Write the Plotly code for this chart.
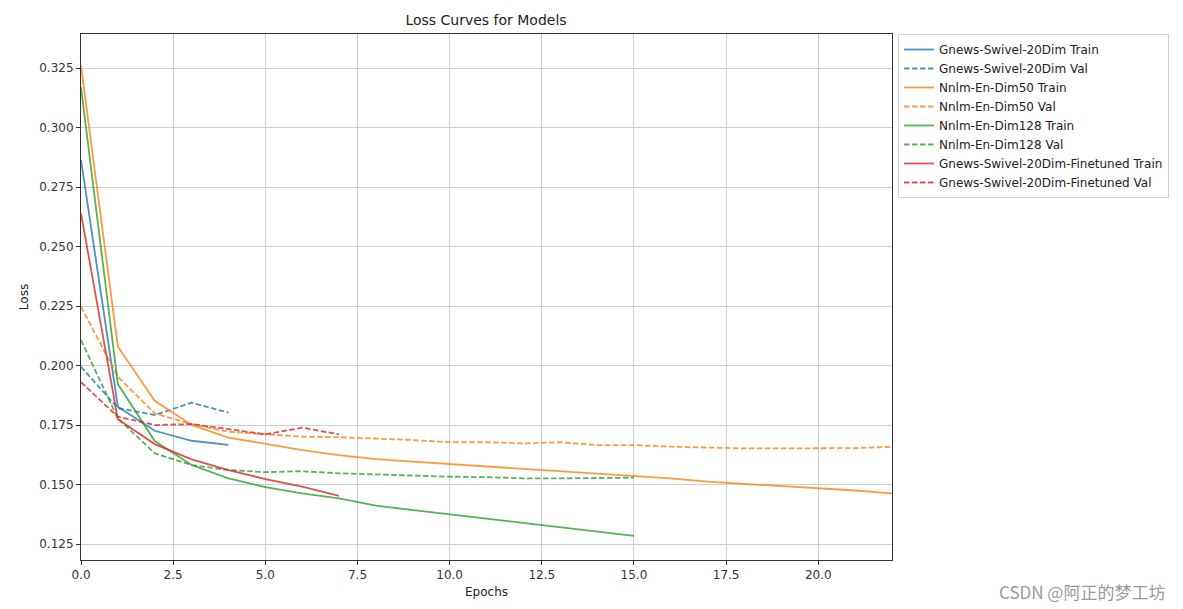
import plotly.graph_objects as go

epochs_gnews = [0, 1, 2, 3, 4]
gnews_train = [0.2865, 0.1828, 0.1727, 0.1685, 0.1668]
gnews_val = [0.1996, 0.1822, 0.1793, 0.1845, 0.1803]

epochs_nnlm50 = list(range(0, 23))
nnlm50_train = [0.326, 0.208, 0.1853, 0.1751, 0.1698, 0.1671, 0.1646, 0.1625, 0.1608, 0.1597,
                0.1587, 0.1578, 0.1568, 0.1556, 0.1547, 0.1537, 0.1527, 0.1513, 0.1504, 0.1495,
                0.1485, 0.1476, 0.1464]
nnlm50_val = [0.2248, 0.1954, 0.1800, 0.1755, 0.1723, 0.1712, 0.1702, 0.1700, 0.1695, 0.1688,
              0.1679, 0.1679, 0.1674, 0.1679, 0.1667, 0.1667, 0.1660, 0.1656, 0.1653, 0.1653,
              0.1652, 0.1654, 0.1660]

epochs_nnlm128 = list(range(0, 16))
nnlm128_train = [0.317, 0.1923, 0.1684, 0.1583, 0.1527, 0.1490, 0.1464, 0.1443, 0.1412, 0.1394,
                 0.1376, 0.1355, 0.1338, 0.1321, 0.1303, 0.1285]
nnlm128_val = [0.2108, 0.1779, 0.1632, 0.1583, 0.1562, 0.1553, 0.1557, 0.1548, 0.1544, 0.1538,
               0.1534, 0.1532, 0.1527, 0.1527, 0.1530, 0.1530]

epochs_ft = [0, 1, 2, 3, 4, 5, 6, 7]
ft_train = [0.2640, 0.1775, 0.1671, 0.1607, 0.1562, 0.1524, 0.1492, 0.1453]
ft_val = [0.1931, 0.1786, 0.1751, 0.1755, 0.1734, 0.1712, 0.1740, 0.1712]

series = [
    ("Gnews-Swivel-20Dim", epochs_gnews, gnews_train, gnews_val, "#1f77b4"),
    ("Nnlm-En-Dim50", epochs_nnlm50, nnlm50_train, nnlm50_val, "#ff7f0e"),
    ("Nnlm-En-Dim128", epochs_nnlm128, nnlm128_train, nnlm128_val, "#2ca02c"),
    ("Gnews-Swivel-20Dim-Finetuned", epochs_ft, ft_train, ft_val, "#d62728"),
]

fig = go.Figure()
for name, ep, tr, va, col in series:
    fig.add_trace(go.Scatter(x=ep, y=tr, mode="lines", name=f"{name} Train",
                             line=dict(color=col, width=1.8), opacity=0.8))
    fig.add_trace(go.Scatter(x=ep, y=va, mode="lines", name=f"{name} Val",
                             line=dict(color=col, width=1.8, dash="5.5px,2.5px"), opacity=0.8))

font = "DejaVu Sans, Arial, sans-serif"
axis_common = dict(showline=True, linecolor="#333333", linewidth=1, mirror=True,
                   showgrid=True, gridcolor="#cfcfcf", gridwidth=1,
                   ticks="outside", ticklen=4, tickcolor="#333333",
                   tickfont=dict(family=font, size=12, color="#333333"), zeroline=False)

fig.update_layout(
    width=1183, height=609,
    margin=dict(l=81, r=291, t=34, b=49),
    paper_bgcolor="white", plot_bgcolor="white",
    title=dict(text="Loss Curves for Models", x=(486) / 1183, xanchor="center",
               y=1 - 20 / 609, yanchor="middle",
               font=dict(family=font, size=14, color="#222222")),
    xaxis=dict(range=[0, 22], tickvals=[0, 2.5, 5, 7.5, 10, 12.5, 15, 17.5, 20],
               ticktext=["0.0", "2.5", "5.0", "7.5", "10.0", "12.5", "15.0", "17.5", "20.0"],
               title=dict(text="Epochs", font=dict(family=font, size=12, color="#222222"), standoff=6),
               **axis_common),
    yaxis=dict(range=[0.1184, 0.3394],
               tickvals=[0.125, 0.15, 0.175, 0.2, 0.225, 0.25, 0.275, 0.3, 0.325],
               ticktext=["0.125", "0.150", "0.175", "0.200", "0.225", "0.250", "0.275", "0.300", "0.325"],
               title=dict(text="Loss", font=dict(family=font, size=12, color="#222222"), standoff=8),
               **axis_common),
    legend=dict(x=(898 - 81) / 811, y=(560 - 34) / 526, xanchor="left", yanchor="top",
                bordercolor="#d0d0d0", borderwidth=1, bgcolor="white",
                font=dict(family=font, size=12, color="#222222"),
                tracegroupgap=0, itemwidth=30),
    showlegend=True,
)

fig.add_annotation(text="CSDN @阿正的梦工坊", xref="paper", yref="paper",
                   x=(1167 - 81) / 811, y=(560 - 591) / 526, xanchor="right", yanchor="middle",
                   showarrow=False,
                   font=dict(family="Noto Sans CJK SC, sans-serif", size=17, color="#9a9a9a"))

fig.write_html("out.html")
